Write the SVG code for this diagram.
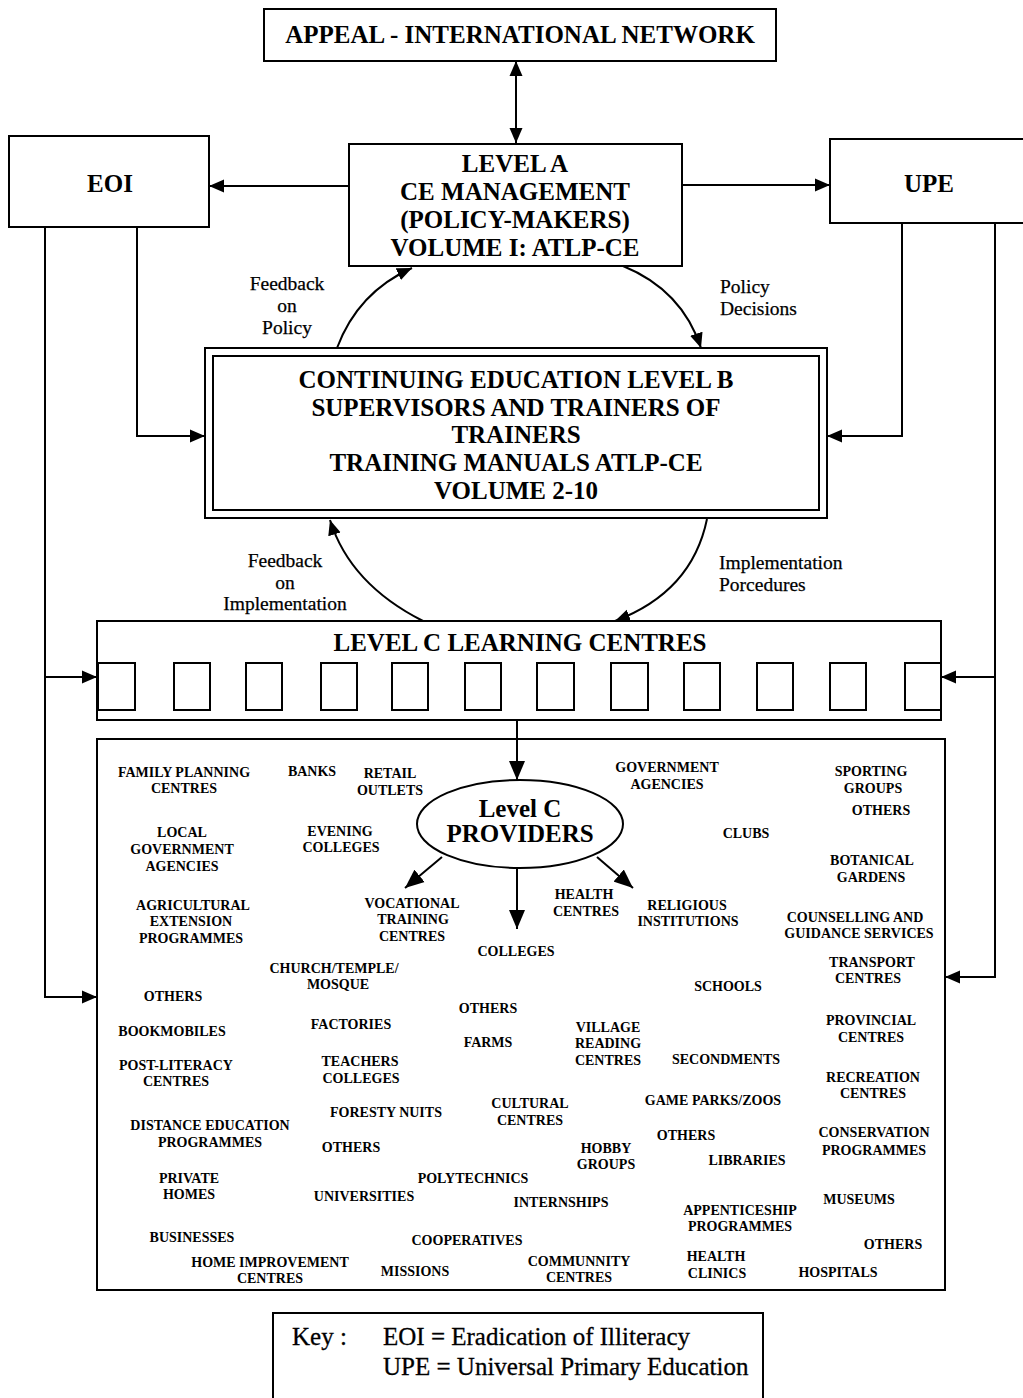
<svg xmlns="http://www.w3.org/2000/svg" width="1023" height="1398" viewBox="0 0 1023 1398">
  <style>
    .box { fill: #fff; stroke: #000; stroke-width: 2; }
    .frame { fill: none; stroke: #000; stroke-width: 2; }
    .conn { fill: none; stroke: #000; stroke-width: 2; }
    .arr { marker-end: url(#head); }
    .arr-big { marker-end: url(#bighead); }
    .h { font-family: "Liberation Serif", "Times New Roman", serif; font-weight: bold; font-size: 25px; text-anchor: middle; fill: #000; }
    .lbl { font-family: "Liberation Serif", "Times New Roman", serif; font-size: 19.5px; fill: #000; stroke: #000; stroke-width: 0.25; }
    .mid { text-anchor: middle; }
    .p { font-family: "Liberation Serif", "Times New Roman", serif; font-weight: bold; font-size: 14px; text-anchor: middle; fill: #000; }
    .key { font-family: "Liberation Serif", "Times New Roman", serif; font-size: 25px; fill: #000; stroke: #000; stroke-width: 0.3; }
  </style>
  <defs>
    <marker id="head" markerUnits="userSpaceOnUse" markerWidth="16" markerHeight="14" refX="15" refY="7" orient="auto">
      <path d="M0,0.5 L15,7 L0,13.5 z" fill="#000"/>
    </marker>
    <marker id="tail" markerUnits="userSpaceOnUse" markerWidth="16" markerHeight="14" refX="15" refY="7" orient="auto-start-reverse">
      <path d="M0,0.5 L15,7 L0,13.5 z" fill="#000"/>
    </marker>
    <marker id="bighead" markerUnits="userSpaceOnUse" markerWidth="20" markerHeight="17" refX="19" refY="8.5" orient="auto">
      <path d="M0,0.5 L19,8.5 L0,16.5 z" fill="#000"/>
    </marker>
  </defs>
  <rect width="1023" height="1398" fill="#fff"/>

  <g id="appeal">
    <rect class="box" x="264" y="9" width="512" height="52"/>
    <text class="h" x="520" y="43" font-size="24">APPEAL - INTERNATIONAL NETWORK</text>
  </g>

  <g id="eoi">
    <rect class="box" x="9" y="136" width="200" height="91"/>
    <text class="h" x="110" y="192">EOI</text>
  </g>

  <g id="upe">
    <rect class="box" x="830" y="139" width="200" height="84"/>
    <text class="h" x="929" y="192">UPE</text>
  </g>

  <g id="level-a">
    <rect class="box" x="349" y="144" width="333" height="122"/>
    <text class="h" x="515" y="172">LEVEL A</text>
    <text class="h" x="515" y="200">CE MANAGEMENT</text>
    <text class="h" x="515" y="228">(POLICY-MAKERS)</text>
    <text class="h" x="515" y="256">VOLUME I: ATLP-CE</text>
  </g>

  <g id="level-b">
    <rect class="box" x="205" y="348" width="622" height="170"/>
    <rect class="frame" x="213" y="356" width="606" height="154"/>
    <text class="h" x="516" y="388">CONTINUING EDUCATION LEVEL B</text>
    <text class="h" x="516" y="416">SUPERVISORS AND TRAINERS OF</text>
    <text class="h" x="516" y="443">TRAINERS</text>
    <text class="h" x="516" y="471">TRAINING MANUALS ATLP-CE</text>
    <text class="h" x="516" y="499">VOLUME 2-10</text>
  </g>

  <g id="loop-labels">
    <text class="lbl mid" x="287" y="290">Feedback</text>
    <text class="lbl mid" x="287" y="312">on</text>
    <text class="lbl mid" x="287" y="334">Policy</text>
    <text class="lbl" x="720" y="293">Policy</text>
    <text class="lbl" x="720" y="315">Decisions</text>
    <text class="lbl mid" x="285" y="567">Feedback</text>
    <text class="lbl mid" x="285" y="589">on</text>
    <text class="lbl mid" x="285" y="610">Implementation</text>
    <text class="lbl" x="719" y="569">Implementation</text>
    <text class="lbl" x="719" y="591">Porcedures</text>
  </g>

  <g id="level-c-learning-centres">
    <rect class="box" x="97" y="621" width="844" height="99"/>
    <text class="h" x="520" y="651">LEVEL C LEARNING CENTRES</text>
    <rect class="frame" x="98" y="663" width="37" height="47"/>
    <rect class="frame" x="174" y="663" width="36" height="47"/>
    <rect class="frame" x="246" y="663" width="36" height="47"/>
    <rect class="frame" x="321" y="663" width="36" height="47"/>
    <rect class="frame" x="392" y="663" width="36" height="47"/>
    <rect class="frame" x="465" y="663" width="36" height="47"/>
    <rect class="frame" x="537" y="663" width="37" height="47"/>
    <rect class="frame" x="611" y="663" width="37" height="47"/>
    <rect class="frame" x="684" y="663" width="36" height="47"/>
    <rect class="frame" x="757" y="663" width="36" height="47"/>
    <rect class="frame" x="830" y="663" width="36" height="47"/>
    <rect class="frame" x="905" y="663" width="36" height="47"/>
  </g>

  <g id="providers-area">
    <rect class="frame" x="97" y="739" width="848" height="551"/>
  </g>

  <g id="providers-hub">
    <ellipse class="box" cx="520" cy="824" rx="103" ry="44"/>
    <text class="h" x="520" y="817" font-size="24.5">Level C</text>
    <text class="h" x="520" y="842" font-size="24.5">PROVIDERS</text>
  </g>

  <g id="provider-list">
    <text class="p" x="184" y="777">FAMILY PLANNING</text>
    <text class="p" x="184" y="793">CENTRES</text>
    <text class="p" x="312" y="776">BANKS</text>
    <text class="p" x="390" y="778">RETAIL</text>
    <text class="p" x="390" y="795">OUTLETS</text>
    <text class="p" x="667" y="772">GOVERNMENT</text>
    <text class="p" x="667" y="789">AGENCIES</text>
    <text class="p" x="871" y="776">SPORTING</text>
    <text class="p" x="873" y="793">GROUPS</text>
    <text class="p" x="881" y="815">OTHERS</text>
    <text class="p" x="182" y="837">LOCAL</text>
    <text class="p" x="182" y="854">GOVERNMENT</text>
    <text class="p" x="182" y="871">AGENCIES</text>
    <text class="p" x="340" y="836">EVENING</text>
    <text class="p" x="341" y="852">COLLEGES</text>
    <text class="p" x="746" y="838">CLUBS</text>
    <text class="p" x="872" y="865">BOTANICAL</text>
    <text class="p" x="871" y="882">GARDENS</text>
    <text class="p" x="193" y="910">AGRICULTURAL</text>
    <text class="p" x="191" y="926">EXTENSION</text>
    <text class="p" x="191" y="943">PROGRAMMES</text>
    <text class="p" x="412" y="908">VOCATIONAL</text>
    <text class="p" x="413" y="924">TRAINING</text>
    <text class="p" x="412" y="941">CENTRES</text>
    <text class="p" x="584" y="899">HEALTH</text>
    <text class="p" x="586" y="916">CENTRES</text>
    <text class="p" x="687" y="910">RELIGIOUS</text>
    <text class="p" x="688" y="926">INSTITUTIONS</text>
    <text class="p" x="855" y="922">COUNSELLING AND</text>
    <text class="p" x="859" y="938">GUIDANCE SERVICES</text>
    <text class="p" x="516" y="956">COLLEGES</text>
    <text class="p" x="334" y="973">CHURCH/TEMPLE/</text>
    <text class="p" x="338" y="989">MOSQUE</text>
    <text class="p" x="872" y="967">TRANSPORT</text>
    <text class="p" x="868" y="983">CENTRES</text>
    <text class="p" x="728" y="991">SCHOOLS</text>
    <text class="p" x="173" y="1001">OTHERS</text>
    <text class="p" x="488" y="1013">OTHERS</text>
    <text class="p" x="172" y="1036">BOOKMOBILES</text>
    <text class="p" x="351" y="1029">FACTORIES</text>
    <text class="p" x="608" y="1032">VILLAGE</text>
    <text class="p" x="608" y="1048">READING</text>
    <text class="p" x="608" y="1065">CENTRES</text>
    <text class="p" x="488" y="1047">FARMS</text>
    <text class="p" x="871" y="1025">PROVINCIAL</text>
    <text class="p" x="871" y="1042">CENTRES</text>
    <text class="p" x="176" y="1070">POST-LITERACY</text>
    <text class="p" x="176" y="1086">CENTRES</text>
    <text class="p" x="360" y="1066">TEACHERS</text>
    <text class="p" x="361" y="1083">COLLEGES</text>
    <text class="p" x="726" y="1064">SECONDMENTS</text>
    <text class="p" x="873" y="1082">RECREATION</text>
    <text class="p" x="873" y="1098">CENTRES</text>
    <text class="p" x="530" y="1108">CULTURAL</text>
    <text class="p" x="530" y="1125">CENTRES</text>
    <text class="p" x="713" y="1105">GAME PARKS/ZOOS</text>
    <text class="p" x="386" y="1117">FORESTY NUITS</text>
    <text class="p" x="210" y="1130">DISTANCE EDUCATION</text>
    <text class="p" x="210" y="1147">PROGRAMMES</text>
    <text class="p" x="686" y="1140">OTHERS</text>
    <text class="p" x="874" y="1137">CONSERVATION</text>
    <text class="p" x="874" y="1155">PROGRAMMES</text>
    <text class="p" x="351" y="1152">OTHERS</text>
    <text class="p" x="606" y="1153">HOBBY</text>
    <text class="p" x="606" y="1169">GROUPS</text>
    <text class="p" x="747" y="1165">LIBRARIES</text>
    <text class="p" x="189" y="1183">PRIVATE</text>
    <text class="p" x="189" y="1199">HOMES</text>
    <text class="p" x="473" y="1183">POLYTECHNICS</text>
    <text class="p" x="364" y="1201">UNIVERSITIES</text>
    <text class="p" x="561" y="1207">INTERNSHIPS</text>
    <text class="p" x="859" y="1204">MUSEUMS</text>
    <text class="p" x="740" y="1215">APPENTICESHIP</text>
    <text class="p" x="740" y="1231">PROGRAMMES</text>
    <text class="p" x="192" y="1242">BUSINESSES</text>
    <text class="p" x="467" y="1245">COOPERATIVES</text>
    <text class="p" x="893" y="1249">OTHERS</text>
    <text class="p" x="270" y="1267">HOME IMPROVEMENT</text>
    <text class="p" x="270" y="1283">CENTRES</text>
    <text class="p" x="415" y="1276">MISSIONS</text>
    <text class="p" x="579" y="1266">COMMUNNITY</text>
    <text class="p" x="579" y="1282">CENTRES</text>
    <text class="p" x="716" y="1261">HEALTH</text>
    <text class="p" x="717" y="1278">CLINICS</text>
    <text class="p" x="838" y="1277">HOSPITALS</text>
  </g>

  <g id="key">
    <rect class="box" x="273" y="1313" width="490" height="100"/>
    <text class="key" x="292" y="1345">Key :</text>
    <text class="key" x="383" y="1345">EOI = Eradication of Illiteracy</text>
    <text class="key" x="383" y="1375">UPE = Universal Primary Education</text>
  </g>

  <!-- connectors, drawn last so they sit on top of the box fills -->
  <g id="connectors">
    <!-- APPEAL <-> Level A -->
    <line class="conn" x1="516" y1="61" x2="516" y2="143" marker-start="url(#tail)" marker-end="url(#head)"/>
    <!-- Level A to EOI / UPE -->
    <line class="conn arr" x1="349" y1="186" x2="209" y2="186"/>
    <line class="conn arr" x1="682" y1="185" x2="830" y2="185"/>
    <!-- EOI feeds -->
    <polyline class="conn arr" points="137,227 137,436 205,436"/>
    <polyline class="conn arr" points="45,227 45,677 97,677"/>
    <polyline class="conn arr" points="45,677 45,997 97,997"/>
    <!-- UPE feeds -->
    <polyline class="conn arr" points="902,223 902,436 827,436"/>
    <polyline class="conn arr" points="995,223 995,677 941,677"/>
    <polyline class="conn arr" points="995,677 995,977 945,977"/>
    <!-- feedback / decision loop between A and B -->
    <path class="conn arr" d="M337,348 Q358,292 412,268"/>
    <path class="conn arr" d="M623,266 Q682,290 701,348"/>
    <!-- feedback / procedures loop between B and C -->
    <path class="conn arr" d="M423,621 Q350,584 330,520"/>
    <path class="conn arr" d="M707,519 Q692,592 615,621"/>
    <!-- learning centres to providers -->
    <line class="conn arr-big" x1="517" y1="720" x2="517" y2="780"/>
    <!-- providers fan-out -->
    <line class="conn arr-big" x1="442" y1="857" x2="405" y2="888"/>
    <line class="conn arr-big" x1="517" y1="868" x2="517" y2="929"/>
    <line class="conn arr-big" x1="597" y1="857" x2="633" y2="888"/>
  </g>
</svg>
